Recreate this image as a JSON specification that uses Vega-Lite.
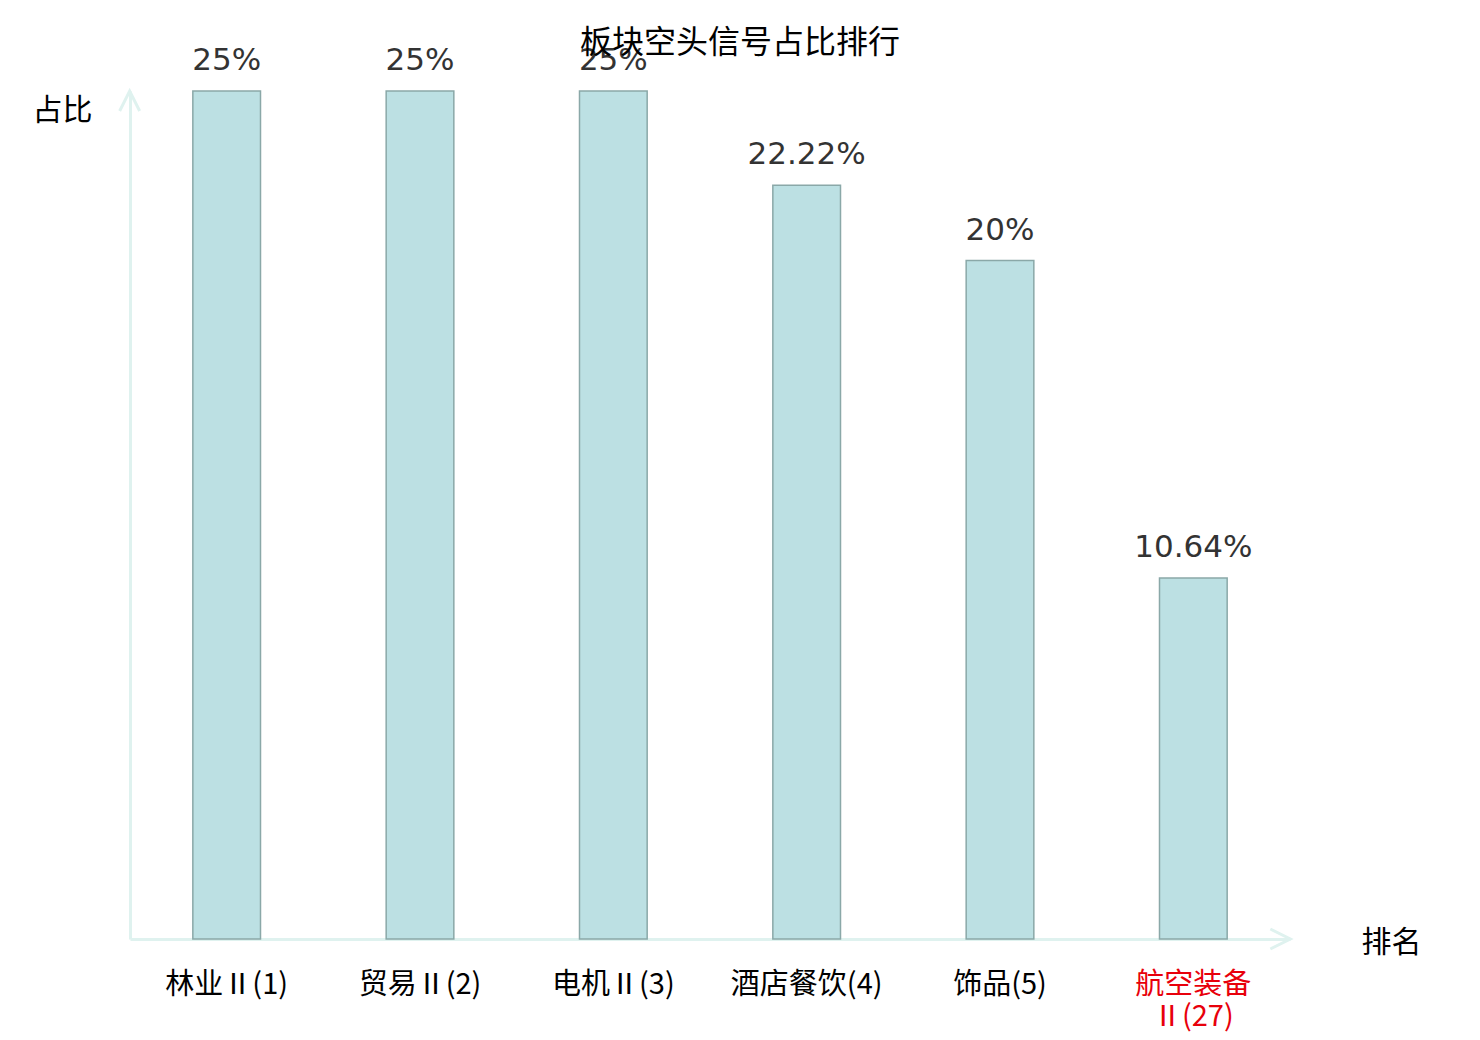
{
  "$schema": "https://vega.github.io/schema/vega-lite/v6.json",
  "autosize": {"type": "none"},
  "width": 1160,
  "height": 848,
  "padding": {"left": 130, "top": 91, "right": 190, "bottom": 101},
  "background": "white",
  "title": {
    "text": "板块空头信号占比排行",
    "font": "Noto Sans CJK SC",
    "fontSize": 32,
    "fontWeight": "normal",
    "color": "#000000",
    "anchor": "middle",
    "dx": 30,
    "offset": -15
  },
  "data": {
    "values": [
      {"sector": "林业Ⅱ(1)", "share": 0.25},
      {"sector": "贸易Ⅱ(2)", "share": 0.25},
      {"sector": "电机Ⅱ(3)", "share": 0.25},
      {"sector": "酒店餐饮(4)", "share": 0.2222},
      {"sector": "饰品(5)", "share": 0.2},
      {"sector": "航空装备Ⅱ(27)", "share": 0.1064}
    ]
  },
  "encoding": {
    "x": {
      "field": "sector",
      "type": "nominal",
      "sort": null,
      "scale": {
        "domain": ["林业Ⅱ(1)", "贸易Ⅱ(2)", "电机Ⅱ(3)", "酒店餐饮(4)", "饰品(5)", "航空装备Ⅱ(27)"],
        "paddingInner": 0.65,
        "paddingOuter": 0.325
      },
      "axis": {
        "title": "排名",
        "titleFont": "Noto Sans CJK SC",
        "titleFontSize": 30,
        "titleFontWeight": "normal",
        "titleColor": "#000000",
        "titleAngle": 0,
        "titleAlign": "center",
        "titleBaseline": "middle",
        "titleX": 1261,
        "titleY": 3,
        "domainColor": "#dff2ef",
        "domainWidth": 3,
        "ticks": false,
        "labelAngle": 0,
        "labelFont": "Noto Sans CJK SC",
        "labelFontSize": 29,
        "labelPadding": 31,
        "labelLineHeight": 32,
        "labelBaseline": "top",
        "labelExpr": "datum.value == '航空装备Ⅱ(27)' ? ['航空装备', 'Ⅱ(27)'] : datum.label",
        "labelColor": {
          "condition": {"test": "datum.value == '航空装备Ⅱ(27)'", "value": "#e8000b"},
          "value": "#000000"
        }
      }
    }
  },
  "layer": [
    {
      "mark": {"type": "bar", "fill": "#bce0e3", "stroke": "#8aa8a8", "strokeWidth": 1.5},
      "encoding": {
        "y": {
          "field": "share",
          "type": "quantitative",
          "scale": {"domain": [0, 0.25], "nice": false},
          "axis": {
            "title": "占比",
            "titleFont": "Noto Sans CJK SC",
            "titleFontSize": 30,
            "titleFontWeight": "normal",
            "titleColor": "#000000",
            "titleAngle": 0,
            "titleAlign": "center",
            "titleBaseline": "middle",
            "titleX": -68,
            "titleY": 19,
            "domainColor": "#dff2ef",
            "domainWidth": 3,
            "ticks": false,
            "labels": false,
            "grid": false
          }
        }
      }
    },
    {
      "mark": {
        "type": "text",
        "baseline": "bottom",
        "dy": -14,
        "font": "DejaVu Sans",
        "fontSize": 31,
        "color": "#333333"
      },
      "encoding": {
        "y": {"field": "share", "type": "quantitative"},
        "text": {"field": "share", "type": "quantitative", "format": ".4~%"}
      }
    },
    {
      "data": {"values": [{"sector": "航空装备Ⅱ(27)", "share": 0}]},
      "mark": {
        "type": "point",
        "shape": "M-1,-0.5L0,0L-1,0.5",
        "size": 1600,
        "filled": false,
        "stroke": "#dff2ef",
        "strokeWidth": 3,
        "xOffset": 97,
        "opacity": 1
      },
      "encoding": {
        "y": {"field": "share", "type": "quantitative"}
      }
    },
    {
      "data": {"values": [{"sector": "林业Ⅱ(1)", "share": 0.25}]},
      "mark": {
        "type": "point",
        "shape": "M-0.5,1L0,0L0.5,1",
        "size": 1600,
        "filled": false,
        "stroke": "#dff2ef",
        "strokeWidth": 3,
        "xOffset": -97,
        "opacity": 1
      },
      "encoding": {
        "y": {"field": "share", "type": "quantitative"}
      }
    }
  ],
  "config": {
    "view": {"stroke": null}
  }
}
